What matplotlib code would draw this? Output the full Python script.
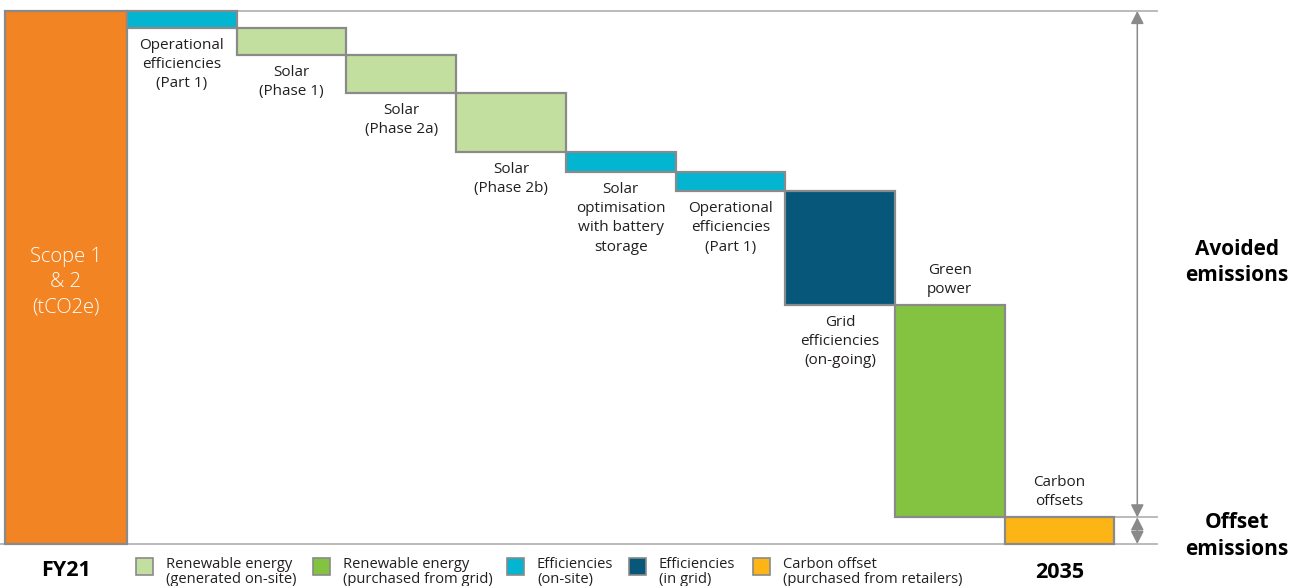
import matplotlib
matplotlib.use("Agg")
import matplotlib.pyplot as plt
from matplotlib.patches import Rectangle

# ---- data (share of FY21 Scope 1 & 2 emissions, %) ----
start_label = "Scope 1\n& 2\n(tCO2e)"
start_value = 100.0
step_labels = [
    "Operational\nefficiencies\n(Part 1)",
    "Solar\n(Phase 1)",
    "Solar\n(Phase 2a)",
    "Solar\n(Phase 2b)",
    "Solar\noptimisation\nwith battery\nstorage",
    "Operational\nefficiencies\n(Part 1)",
    "Grid\nefficiencies\n(on-going)",
    "Green\npower",
    "Carbon\noffsets",
]
step_values = [3.1, 5.1, 7.2, 11.1, 3.7, 3.6, 21.3, 39.9, 5.0]
step_types = ["eff_site", "re_site", "re_site", "re_site", "eff_site",
              "eff_site", "eff_grid", "re_grid", "offset"]
x_labels = ["FY21", "2035"]
legend_types = ["re_site", "re_grid", "eff_site", "eff_grid", "offset"]
legend_labels = [
    "Renewable energy\n(generated on-site)",
    "Renewable energy\n(purchased from grid)",
    "Efficiencies\n(on-site)",
    "Efficiencies\n(in grid)",
    "Carbon offset\n(purchased from retailers)",
]
side_labels = ["Avoided\nemissions", "Offset\nemissions"]

# ---- styles ----
colors = {
    "start": "#F28423",
    "eff_site": "#03B5D0",
    "re_site": "#C2DF9F",
    "re_grid": "#84C342",
    "eff_grid": "#06577A",
    "offset": "#FDB515",
}
edge = "#8A8A8A"
light = "#B5B5B5"
txt = "#231F20"
FONT = ["Open Sans", "DejaVu Sans"]
plt.rcParams["font.family"] = FONT

W, H = 1303, 586
fig = plt.figure(figsize=(W / 100, H / 100), dpi=100)
ax = fig.add_axes([0, 0, 1, 1])
# layout: 1 x-unit = 109.7 px, step bars start at px 127; y 0..100 -> px 544..11
px_per_x = 109.7
x0_px = 127.0
px_per_y = 5.33
ax.set_xlim(-x0_px / px_per_x, (W - x0_px) / px_per_x)
ax.set_ylim(-(H - 544) / px_per_y, 544 / px_per_y)
ax.axis("off")

start_w = 122 / px_per_x
# start bar
ax.bar(-start_w, start_value, width=start_w, align="edge",
       color=colors["start"], edgecolor=edge, linewidth=1.6, zorder=3)
ax.text(-start_w / 2, start_value / 2 - 0.9, start_label, ha="center", va="center",
        color="white", fontsize=14.5, fontweight="light", linespacing=1.38, zorder=4)

# reference lines
line_end = 9 + 43 / px_per_x
arrow_x = 9 + 23 / px_per_x
ax.plot([-start_w, line_end], [start_value, start_value], color=light, lw=1.3, zorder=1)
ax.plot([-x0_px / px_per_x, line_end], [0, 0], color=light, lw=1.3, zorder=1)

# waterfall steps
level = start_value
n = len(step_values)
for i, (v, lab, t) in enumerate(zip(step_values, step_labels, step_types)):
    top = level
    bottom = level - v
    ax.bar(i, v, bottom=bottom, width=1.0, align="edge",
           color=colors[t], edgecolor=edge, linewidth=1.6, zorder=3)
    if i >= n - 2:
        ax.annotate(lab, (i + 0.5, top), xytext=(0, 8), textcoords="offset pixels",
                    ha="center", va="bottom", fontsize=11, color=txt,
                    linespacing=1.38, zorder=4)
    else:
        ax.annotate(lab, (i + 0.5, bottom), xytext=(0, -10), textcoords="offset pixels",
                    ha="center", va="top", fontsize=11, color=txt,
                    linespacing=1.38, zorder=4)
    level = bottom

offset_level = step_values[-1]
ax.plot([n - 1, line_end], [offset_level, offset_level], color=light, lw=1.3, zorder=1)

arrow_kw = dict(arrowstyle="<|-|>,head_length=0.55,head_width=0.28",
                color="#8A8A8A", lw=1.1, shrinkA=0, shrinkB=0, mutation_scale=14)
ax.annotate("", xy=(arrow_x, start_value), xytext=(arrow_x, offset_level),
            arrowprops=arrow_kw, zorder=2)
ax.annotate("", xy=(arrow_x, offset_level), xytext=(arrow_x, 0),
            arrowprops=arrow_kw, zorder=2)

# side labels
side_x = (1237 - x0_px) / px_per_x
ax.text(side_x, (start_value + offset_level) / 2 + 0.3, side_labels[0], ha="center", va="center",
        fontsize=15, fontweight="bold", color="black", linespacing=1.3)
ax.text(side_x, offset_level / 2 - 1.0, side_labels[1], ha="center", va="center",
        fontsize=15, fontweight="bold", color="black", linespacing=1.35)

# x labels
ax.text(-start_w / 2, -(571 - 544) / px_per_y, x_labels[0], ha="center", va="center",
        fontsize=15.5, fontweight="bold", color="black")
ax.text(n - 0.5, -(572 - 544) / px_per_y, x_labels[1], ha="center", va="center",
        fontsize=15.5, fontweight="bold", color="black")

# legend (manual, figure pixels)
leg_sq_x = [136, 313, 507, 629, 753]
sq = 17
sq_top = 558
for xs, t, lab in zip(leg_sq_x, legend_types, legend_labels):
    fig.add_artist(Rectangle((xs / W, (H - sq_top - sq) / H), sq / W, sq / H,
                             transform=fig.transFigure, facecolor=colors[t],
                             edgecolor=edge, linewidth=1.2))
    fig.text((xs + sq + 13) / W, (H - 557) / H, lab, ha="left", va="top",
             fontsize=10.6, color=txt, linespacing=1.0)

fig.savefig("out.png", dpi=100)
